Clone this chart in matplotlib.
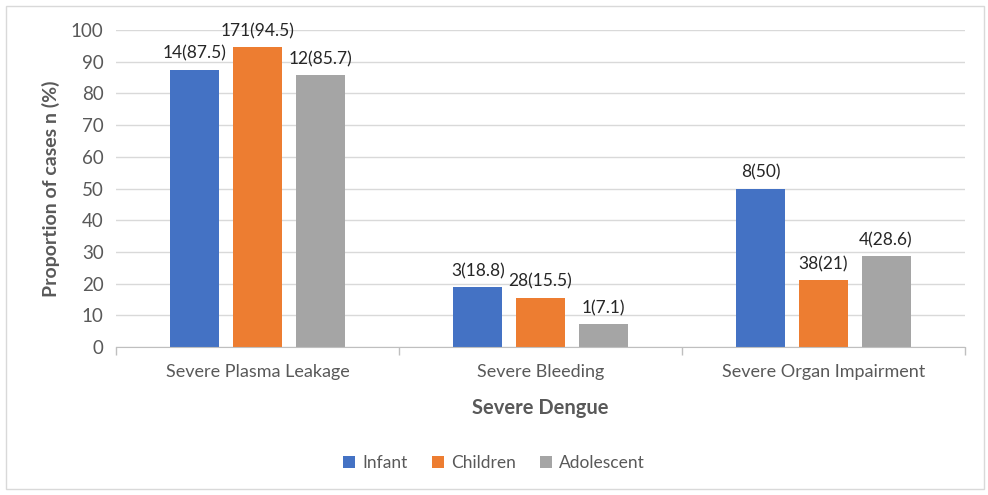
import matplotlib
matplotlib.use("Agg")
import matplotlib.pyplot as plt
from matplotlib.patches import Rectangle
import numpy as np

plt.rcParams['font.family'] = ['Lato', 'DejaVu Sans']

categories = ["Severe Plasma Leakage", "Severe Bleeding", "Severe Organ Impairment"]
series_names = ["Infant", "Children", "Adolescent"]
counts = {
    "Infant": [14, 3, 8],
    "Children": [171, 28, 38],
    "Adolescent": [12, 1, 4],
}
percents = {
    "Infant": [87.5, 18.8, 50],
    "Children": [94.5, 15.5, 21],
    "Adolescent": [85.7, 7.1, 28.6],
}
colors = {"Infant": "#4472C4", "Children": "#ED7D31", "Adolescent": "#A5A5A5"}

W, H = 988, 495
fig = plt.figure(figsize=(W / 100, H / 100), dpi=100)
ax = fig.add_axes([116 / W, 1 - 347 / H, (965 - 116) / W, (347 - 30) / H])

x = np.arange(len(categories))
bar_w = 0.173
step = 0.221
for i, name in enumerate(series_names):
    pos = x + (i - 1) * step
    bars = ax.bar(pos, percents[name], width=bar_w, color=colors[name], label=name, zorder=3)
    for rect, n, p in zip(bars, counts[name], percents[name]):
        ax.annotate(f"{n}({p:g})", (rect.get_x() + rect.get_width() / 2, p),
                    xytext=(0, 6), textcoords="offset points", ha="center", va="bottom",
                    fontsize=12.5, color="#262626")

ax.set_xlim(-0.5, len(categories) - 0.5)
ax.set_ylim(0, 100)
ax.set_yticks(np.arange(0, 101, 10))
ax.yaxis.grid(True, color="#D9D9D9", linewidth=1, zorder=0)
ax.tick_params(axis="y", length=0, labelsize=13.5, labelcolor="#595959", pad=9)

ax.set_xticks(x)
ax.set_xticklabels(categories)
ax.tick_params(axis="x", length=0, labelsize=13, labelcolor="#595959", pad=12)
ax.set_xticks(np.arange(-0.5, len(categories), 1.0), minor=True)
ax.tick_params(axis="x", which="minor", length=6, color="#BFBFBF", width=1)

for side in ["top", "right", "left"]:
    ax.spines[side].set_visible(False)
ax.spines["bottom"].set_color("#BFBFBF")
ax.spines["bottom"].set_zorder(4)

ax.set_ylabel("Proportion of cases n (%)", fontsize=14, fontweight="bold", color="#595959", labelpad=8)
ax.set_xlabel("Severe Dengue", fontsize=14.5, fontweight="bold", color="#595959", labelpad=13)

leg = fig.legend(loc="center", bbox_to_anchor=(0.5, 1 - 463 / H), ncol=3, frameon=False,
                 fontsize=12.5, handlelength=0.7, handleheight=0.7, handletextpad=0.4,
                 columnspacing=1.4)
for t in leg.get_texts():
    t.set_color("#595959")

fig.patches.append(Rectangle((6 / W, 6 / H), (984 - 6) / W, (489 - 6) / H,
                             transform=fig.transFigure, fill=False,
                             edgecolor="#D9D9D9", linewidth=1))

fig.savefig("out.png", dpi=100, facecolor="white")
